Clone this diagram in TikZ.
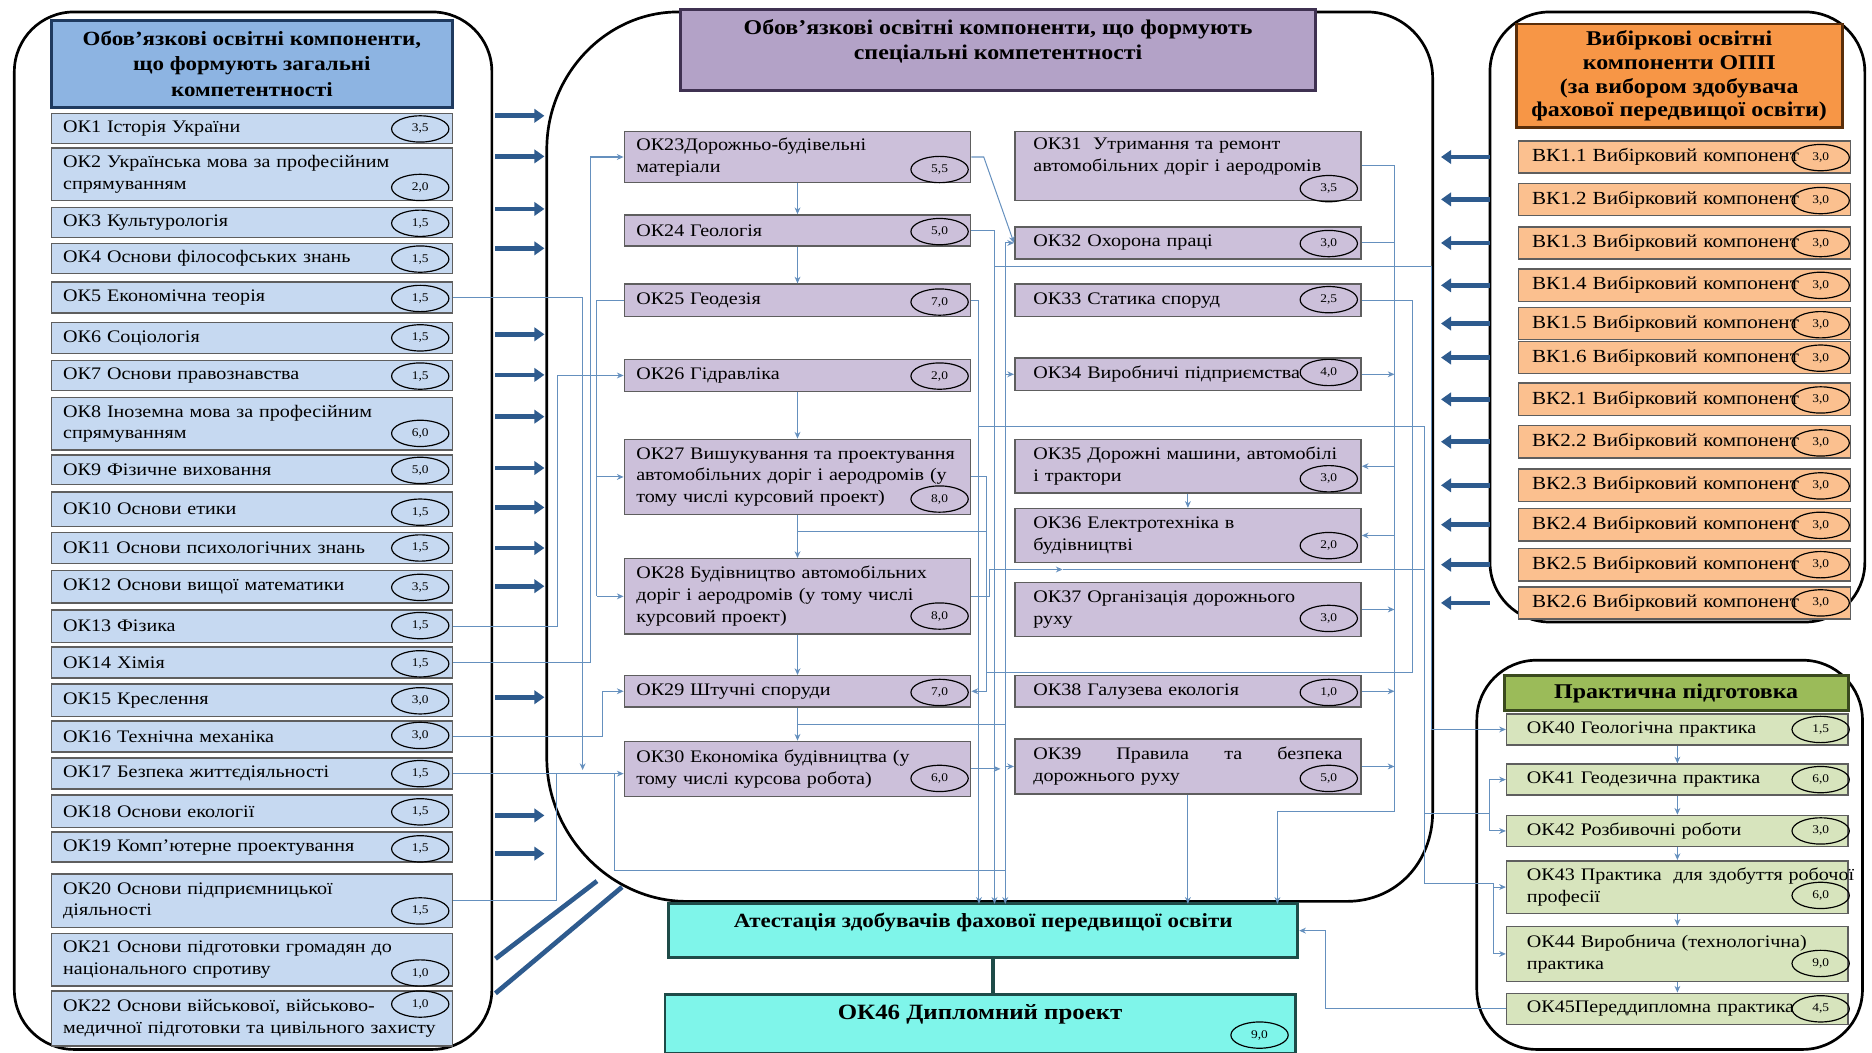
\documentclass[tikz,border=0pt]{standalone}
\usepackage{fontspec}
\setmainfont{Liberation Serif}[FakeStretch=1.14]
\usetikzlibrary{arrows.meta,shapes.geometric}

\definecolor{genhead}{HTML}{8DB4E2}
\definecolor{genfill}{HTML}{C6D9F1}
\definecolor{gendark}{HTML}{1F3A5F}
\definecolor{spechead}{HTML}{B3A2C7}
\definecolor{specfill}{HTML}{CCC0DA}
\definecolor{specdark}{HTML}{3F3151}
\definecolor{elehead}{HTML}{F79646}
\definecolor{elefill}{HTML}{FBC08F}
\definecolor{eledark}{HTML}{5A2E0A}
\definecolor{prachead}{HTML}{9BBB59}
\definecolor{pracfill}{HTML}{D7E4BD}
\definecolor{pracdark}{HTML}{3A4A1E}
\definecolor{attfill}{HTML}{7FF5EA}
\definecolor{attdark}{HTML}{1E4B48}
\definecolor{rowgrey}{HTML}{5E5E5E}
\definecolor{fatblue}{HTML}{2E5B8E}
\definecolor{wireblue}{HTML}{6590BE}

\tikzset{
  frame/.style={draw=black, line width=1.6pt},
  rowbase/.style={draw=rowgrey, line width=0.9pt, align=left, inner ysep=0pt, font=\fontsize{10.5}{13}\selectfont},
  genrow/.style={rowbase, fill=genfill, minimum width=8.4cm, inner xsep=7pt, text width=7.9cm},
  specrow/.style={rowbase, fill=specfill, minimum width=7.25cm, inner xsep=7pt, text width=6.75cm},
  specrowr/.style={specrow, inner xsep=11pt, text width=6.47cm},
  elerow/.style={rowbase, fill=elefill, minimum width=6.95cm, minimum height=0.675cm, inner xsep=8pt, text width=6.38cm, font=\fontsize{11}{13}\selectfont},
  pracrow/.style={rowbase, fill=pracfill, minimum width=7.15cm, inner xsep=12pt, text width=6.3cm},
  hdr/.style={line width=1.6pt, align=center, inner sep=0pt, font=\bfseries\fontsize{12.5}{15}\selectfont},
  attbox/.style={draw=attdark, line width=1.6pt, fill=attfill},
  credit/.style={ellipse, draw=black, line width=0.7pt, minimum width=1.2cm, minimum height=0.55cm, inner sep=0pt, font=\fontsize{7}{7}\selectfont},
  fat/.style={draw=fatblue, line width=2.8pt, -{Triangle[length=6pt,width=8pt]}},
  fatline/.style={draw=fatblue, line width=2.8pt},
  wire/.style={draw=wireblue, line width=0.6pt},
  wirearrow/.style={wire, -{Stealth[length=4pt,width=3.5pt]}},
}

\begin{document}
\begin{tikzpicture}[x=0.025cm, y=-0.025cm]
    \useasboundingbox (0,0) rectangle (1568,882);

    % outer frames
    \draw[frame, rounded corners=1.25cm] (12,10) rectangle (412,879);
    \draw[frame] (458,125) .. controls (458,62) and (508,10) .. (568,10) -- (1145,10)
        .. controls (1175,10) and (1200,35) .. (1200,65) -- (1200,680)
        .. controls (1200,722) and (1170,755) .. (1128,755) -- (575,755)
        .. controls (512,755) and (458,700) .. (458,635) -- cycle;
    \draw[frame, rounded corners=1.25cm] (1248,10) rectangle (1562,521);
    \draw[frame, rounded corners=1.25cm] (1237,553) rectangle (1560,879);

    % general competences
    \node[hdr, draw=gendark, fill=genhead, minimum width=8.4cm, minimum height=1.825cm, font=\bfseries\fontsize{12}{15}\selectfont] (gen) at (211,53.5) {Обов'язкові освітні компоненти,\\що формують загальні\\компетентності};
    \node[genrow, minimum height=0.625cm] (ok1) at (211,107.5) {ОК1 Історія України};
    \node[credit] (ok1v) at (352,108) {3,5};
    \node[genrow, minimum height=1.1cm] (ok2) at (211,146) {ОК2 Українська мова за професійним\\спрямуванням};
    \node[credit] (ok2v) at (352,157) {2,0};
    \node[genrow, minimum height=0.625cm] (ok3) at (211,186.5) {ОК3 Культурологія};
    \node[credit] (ok3v) at (352,187) {1,5};
    \node[genrow, minimum height=0.625cm] (ok4) at (211,216.5) {ОК4 Основи філософських знань};
    \node[credit] (ok4v) at (352,217) {1,5};
    \node[genrow, minimum height=0.65cm] (ok5) at (211,249) {ОК5 Економічна теорія};
    \node[credit] (ok5v) at (352,250) {1,5};
    \node[genrow, minimum height=0.65cm] (ok6) at (211,283) {ОК6 Соціологія};
    \node[credit] (ok6v) at (352,283) {1,5};
    \node[genrow, minimum height=0.625cm] (ok7) at (211,314.5) {ОК7 Основи правознавства};
    \node[credit] (ok7v) at (352,315) {1,5};
    \node[genrow, minimum height=1.1cm] (ok8) at (211,355) {ОК8 Іноземна мова за професійним\\спрямуванням};
    \node[credit] (ok8v) at (352,363) {6,0};
    \node[genrow, minimum height=0.625cm] (ok9) at (211,393.5) {ОК9 Фізичне виховання};
    \node[credit] (ok9v) at (352,394) {5,0};
    \node[genrow, minimum height=0.725cm] (ok10) at (211,426.5) {ОК10 Основи етики};
    \node[credit] (ok10v) at (352,429) {1,5};
    \node[genrow, minimum height=0.65cm] (ok11) at (211,459) {ОК11 Основи психологічних знань};
    \node[credit] (ok11v) at (352,459) {1,5};
    \node[genrow, minimum height=0.675cm] (ok12) at (211,491.5) {ОК12 Основи вищої математики};
    \node[credit] (ok12v) at (352,492) {3,5};
    \node[genrow, minimum height=0.675cm] (ok13) at (211,524.5) {ОК13 Фізика};
    \node[credit] (ok13v) at (352,524) {1,5};
    \node[genrow, minimum height=0.65cm] (ok14) at (211,555) {ОК14 Хімія};
    \node[credit] (ok14v) at (352,556) {1,5};
    \node[genrow, minimum height=0.675cm] (ok15) at (211,586.5) {ОК15 Креслення};
    \node[credit] (ok15v) at (352,587) {3,0};
    \node[genrow, minimum height=0.65cm] (ok16) at (211,617) {ОК16 Технічна механіка};
    \node[credit] (ok16v) at (352,616) {3,0};
    \node[genrow, minimum height=0.65cm] (ok17) at (211,648) {ОК17 Безпека життєдіяльності};
    \node[credit] (ok17v) at (352,648) {1,5};
    \node[genrow, minimum height=0.675cm] (ok18) at (211,679.5) {ОК18 Основи екології};
    \node[credit] (ok18v) at (352,680) {1,5};
    \node[genrow, minimum height=0.625cm] (ok19) at (211,709.5) {ОК19 Комп'ютерне проектування};
    \node[credit] (ok19v) at (352,711) {1,5};
    \node[genrow, minimum height=1.125cm] (ok20) at (211,754.5) {ОК20 Основи підприємницької\\діяльності};
    \node[credit] (ok20v) at (352,763) {1,5};
    \node[genrow, minimum height=1.1cm] (ok21) at (211,804) {ОК21 Основи підготовки громадян до\\національного спротиву};
    \node[credit] (ok21v) at (352,815) {1,0};
    \node[genrow, minimum height=1.15cm] (ok22) at (211,853) {ОК22 Основи військової, військово-\\\mbox{медичної підготовки та цивільного захисту}};
    \node[credit] (ok22v) at (352,841) {1,0};

    % special competences
    \node[hdr, draw=specdark, fill=spechead, minimum width=13.3cm, minimum height=1.7cm,
        label={[anchor=north, yshift=-3pt, align=center, font=\bfseries\fontsize{12.5}{15}\selectfont]north:{Обов’язкові освітні компоненти, що формують\\спеціальні компетентності}}] (spec) at (836,42) {};
    \node[specrow, minimum height=1.075cm] (ok23) at (668,131.5) {ОК23Дорожньо-будівельні\\матеріали};
    \node[credit] (ok23v) at (787,142) {5,5};
    \node[specrow, minimum height=0.65cm] (ok24) at (668,193) {ОК24 Геологія};
    \node[credit] (ok24v) at (787,194) {5,0};
    \node[specrow, minimum height=0.675cm] (ok25) at (668,251.5) {ОК25 Геодезія};
    \node[credit] (ok25v) at (787,253) {7,0};
    \node[specrow, minimum height=0.675cm] (ok26) at (668,314.5) {ОК26 Гідравліка};
    \node[credit] (ok26v) at (787,315) {2,0};
    \node[specrow, minimum height=1.575cm] (ok27) at (668,399.5) {ОК27 Вишукування та проектування\\\mbox{автомобільних доріг і аеродромів (у}\\тому числі курсовий проект)};
    \node[credit] (ok27v) at (787,418) {8,0};
    \node[specrow, minimum height=1.575cm] (ok28) at (668,499.5) {ОК28 Будівництво автомобільних\\доріг і аеродромів (у тому числі\\курсовий проект)};
    \node[credit] (ok28v) at (787,516) {8,0};
    \node[specrow, minimum height=0.65cm] (ok29) at (668,579) {ОК29 Штучні споруди};
    \node[credit] (ok29v) at (787,580) {7,0};
    \node[specrow, minimum height=1.15cm] (ok30) at (668,644) {ОК30 Економіка будівництва (у\\тому числі курсова робота)};
    \node[credit] (ok30v) at (787,652) {6,0};

    \node[specrowr, minimum height=1.45cm] (ok31) at (995,139) {ОК31~~Утримання та ремонт\\\mbox{автомобільних доріг і аеродромів}\\\mbox{}};
    \node[credit] (ok31v) at (1113,158) {3,5};
    \node[specrowr, minimum height=0.675cm] (ok32) at (995,203.5) {ОК32 Охорона праці};
    \node[credit] (ok32v) at (1113,204) {3,0};
    \node[specrowr, minimum height=0.675cm] (ok33) at (995,251.5) {ОК33 Статика споруд};
    \node[credit] (ok33v) at (1113,251) {2,5};
    \node[specrowr, minimum height=0.675cm] (ok34) at (995,313.5) {ОК34 Виробничі підприємства};
    \node[credit] (ok34v) at (1113,312) {4,0};
    \node[specrowr, minimum height=1.125cm] (ok35) at (995,390.5) {ОК35 Дорожні машини, автомобілі\\і трактори};
    \node[credit] (ok35v) at (1113,401) {3,0};
    \node[specrowr, minimum height=1.125cm] (ok36) at (995,448.5) {ОК36 Електротехніка в\\будівництві};
    \node[credit] (ok36v) at (1113,457) {2,0};
    \node[specrowr, minimum height=1.125cm] (ok37) at (995,510.5) {ОК37 Організація дорожнього\\руху};
    \node[credit] (ok37v) at (1113,518) {3,0};
    \node[specrowr, minimum height=0.65cm] (ok38) at (995,579) {ОК38 Галузева екологія};
    \node[credit] (ok38v) at (1113,580) {1,0};
    \node[specrowr, minimum height=1.15cm] (ok39) at (995,642) {ОК39\hfill Правила\hfill та\hfill безпека\\дорожнього руху};
    \node[credit] (ok39v) at (1113,652) {5,0};

    % attestation and diploma
    \node[attbox, minimum width=13.175cm, minimum height=1.125cm,
        label={[anchor=north, yshift=-3pt, font=\bfseries\fontsize{12}{14}\selectfont]north:{Атестація здобувачів фахової передвищої освіти}}] (att) at (823.5,779.5) {};
    \node[attbox, minimum width=13.2cm, minimum height=1.225cm,
        label={[anchor=north, yshift=-3.5pt, font=\bfseries\fontsize{13}{15}\selectfont]north:{ОК46 Дипломний проект}}] (ok46) at (821,857.5) {};
    \node[credit] (ok46v) at (1055,867) {9,0};
    \draw[draw=attdark, line width=2.5pt] (832,802) -- (832,833);

    % elective components
    \node[hdr, draw=eledark, fill=elehead, minimum width=6.825cm, minimum height=2.175cm, font=\bfseries\fontsize{12.5}{14.2}\selectfont] (ele) at (1406.5,63.5) {Вибіркові освітні\\компоненти ОПП\\(за вибором здобувача\\фахової передвищої освіти)};
    \node[elerow] (vk11) at (1411,131.5) {ВК1.1 Вибірковий компонент};
    \node[credit] (vk11v) at (1525,132) {3,0};
    \node[elerow] (vk12) at (1411,167) {ВК1.2 Вибірковий компонент};
    \node[credit] (vk12v) at (1525,168) {3,0};
    \node[elerow] (vk13) at (1411,203.5) {ВК1.3 Вибірковий компонент};
    \node[credit] (vk13v) at (1525,204) {3,0};
    \node[elerow] (vk14) at (1411,239) {ВК1.4 Вибірковий компонент};
    \node[credit] (vk14v) at (1525,239) {3,0};
    \node[elerow] (vk15) at (1411,271) {ВК1.5 Вибірковий компонент};
    \node[credit] (vk15v) at (1525,272) {3,0};
    \node[elerow] (vk16) at (1411,299.5) {ВК1.6 Вибірковий компонент};
    \node[credit] (vk16v) at (1525,300) {3,0};
    \node[elerow] (vk21) at (1411,334.5) {ВК2.1 Вибірковий компонент};
    \node[credit] (vk21v) at (1525,335) {3,0};
    \node[elerow] (vk22) at (1411,370) {ВК2.2 Вибірковий компонент};
    \node[credit] (vk22v) at (1525,371) {3,0};
    \node[elerow] (vk23) at (1411,406.5) {ВК2.3 Вибірковий компонент};
    \node[credit] (vk23v) at (1525,407) {3,0};
    \node[elerow] (vk24) at (1411,439.5) {ВК2.4 Вибірковий компонент};
    \node[credit] (vk24v) at (1525,440) {3,0};
    \node[elerow] (vk25) at (1411,473) {ВК2.5 Вибірковий компонент};
    \node[credit] (vk25v) at (1525,473) {3,0};
    \node[elerow] (vk26) at (1411,505) {ВК2.6 Вибірковий компонент};
    \node[credit] (vk26v) at (1525,505) {3,0};

    % practical training
    \node[hdr, draw=pracdark, fill=prachead, minimum width=7.2cm, minimum height=0.725cm] (prac) at (1404,580.5) {Практична підготовка};
    \node[pracrow, minimum height=0.65cm] (ok40) at (1405,611) {ОК40 Геологічна практика};
    \node[credit] (ok40v) at (1525,611) {1,5};
    \node[pracrow, minimum height=0.65cm] (ok41) at (1405,653) {ОК41 Геодезична практика};
    \node[credit] (ok41v) at (1525,653) {6,0};
    \node[pracrow, minimum height=0.65cm] (ok42) at (1405,696) {ОК42 Розбивочні роботи};
    \node[credit] (ok42v) at (1525,696) {3,0};
    \node[pracrow, minimum height=1.1cm] (ok43) at (1405,743) {\mbox{ОК43 Практика~ для здобуття робочої}\\професії};
    \node[credit] (ok43v) at (1525,750) {6,0};
    \node[pracrow, minimum height=1.15cm] (ok44) at (1405,799) {ОК44 Виробнича (технологічна)\\практика};
    \node[credit] (ok44v) at (1525,807) {9,0};
    \node[pracrow, minimum height=0.65cm] (ok45) at (1405,845) {ОК45Переддипломна практика};
    \node[credit] (ok45v) at (1525,845) {4,5};

    % heavy arrows between the blocks
    \draw[fat] (415,97) -- (456,97);
    \draw[fat] (415,131) -- (456,131);
    \draw[fat] (415,175) -- (456,175);
    \draw[fat] (415,208) -- (456,208);
    \draw[fat] (415,280) -- (456,280);
    \draw[fat] (415,314) -- (456,314);
    \draw[fat] (415,349) -- (456,349);
    \draw[fat] (415,392) -- (456,392);
    \draw[fat] (415,425) -- (456,425);
    \draw[fat] (415,459) -- (456,459);
    \draw[fat] (415,491) -- (456,491);
    \draw[fat] (415,584) -- (456,584);
    \draw[fat] (415,683) -- (456,683);
    \draw[fat] (415,715) -- (456,715);
    \draw[fatline] (415,803) -- (500,738);
    \draw[fatline] (415,832) -- (521,743);
    \draw[fat] (1248,131.5) -- (1207,131.5);
    \draw[fat] (1248,167) -- (1207,167);
    \draw[fat] (1248,203.5) -- (1207,203.5);
    \draw[fat] (1248,239) -- (1207,239);
    \draw[fat] (1248,271) -- (1207,271);
    \draw[fat] (1248,299.5) -- (1207,299.5);
    \draw[fat] (1248,334.5) -- (1207,334.5);
    \draw[fat] (1248,370) -- (1207,370);
    \draw[fat] (1248,406.5) -- (1207,406.5);
    \draw[fat] (1248,439.5) -- (1207,439.5);
    \draw[fat] (1248,473) -- (1207,473);
    \draw[fat] (1248,505) -- (1207,505);

    % left column into the centre
    \draw[wirearrow] (ok5.east) -| (488,645);
    \draw[wirearrow] (ok13.east) -| (467,314.5) -- (ok26.west);
    \draw[wirearrow] (ok14.east) -| (495,131.5) -- (ok23.west);
    \draw[wirearrow] (ok16.east) -| (505,579) -- (ok29.west);
    \draw[wirearrow] (ok17.east) -- (ok17.east -| ok30.west);
    \draw[wire] (ok20.east) -| (466,648);
    \draw[wire] (515,648) |- (842,729);
    \draw[wire] (ok25.west) -| (500,499.5);
    \draw[wirearrow] (500,399.5) -- (ok27.west);
    \draw[wirearrow] (500,499.5) -- (ok28.west);

    % inside the centre
    \draw[wirearrow] (ok23) -- (ok24);
    \draw[wirearrow] (ok24) -- (ok25);
    \draw[wirearrow] (ok26) -- (ok27);
    \draw[wirearrow] (ok27) -- (ok28);
    \draw[wirearrow] (ok28) -- (ok29);
    \draw[wirearrow] (ok29) -- (ok30);
    \draw[wire] (668,445) -- (826,445);
    \draw[wire] (668,607) -- (842,607);
    \draw[wirearrow] (ok23.east) -- (824,131.5) -- (ok32.west);
    \draw[wirearrow] (ok24.east) -| (833,757);
    \draw[wirearrow] (ok25.east) -| (820,757);
    \draw[wirearrow] (ok27.east) -- (826,399.5) |- (ok29.east);
    \draw[wire] (ok33.east) -| (1183,563) -- (826,563);
    \draw[wirearrow] (ok28.east) -- (829,499.5) |- (890,477);
    \draw[wire] (890,477) -- (1193,477);
    \draw[wire] (833,223) -- (1199,223);
    \draw[wire] (820,357) -- (1193,357);
    \draw[wirearrow] (842,203.5) -- (842,757);
    \draw[wirearrow] (842,203.5) -- (ok32.west);
    \draw[wirearrow] (842,313.5) -- (ok34.west);
    \draw[wirearrow] (842,642) -- (ok39.west);
    \draw[wirearrow] (ok30.east) -- (838,644);
    \draw[wirearrow] (ok31.east) -| (1168,680) -| (1070,757);
    \draw[wire] (ok32.east) -- (1168,203.5);
    \draw[wirearrow] (ok34.east) -- (1168,313.5);
    \draw[wirearrow] (1168,390.5) -- (ok35.east);
    \draw[wirearrow] (1168,448.5) -- (ok36.east);
    \draw[wirearrow] (ok37.east) -- (1168,510.5);
    \draw[wirearrow] (ok38.east) -- (1168,579);
    \draw[wirearrow] (ok39.east) -- (1168,642);
    \draw[wirearrow] (ok35) -- (ok36);
    \draw[wirearrow] (ok39.south) -- (995,757);

    % into the practical training
    \draw[wirearrow] (1199,223) |- (ok40.west);
    \draw[wire] (1193,357) |- (1251,740);
    \draw[wire] (1193,681) -- (1248,681);
    \draw[wirearrow] (1248,681) |- (ok41.west);
    \draw[wirearrow] (1248,681) |- (ok42.west);
    \draw[wirearrow] (1251,740) |- (ok43.west);
    \draw[wirearrow] (1251,740) |- (ok44.west);
    \draw[wirearrow] (ok40) -- (ok41);
    \draw[wirearrow] (ok41) -- (ok42);
    \draw[wirearrow] (ok42) -- (ok43);
    \draw[wirearrow] (ok43) -- (ok44);
    \draw[wirearrow] (ok44) -- (ok45);
    \draw[wirearrow] (ok45.west) -| (1110,779.5) -- (att.east);
\end{tikzpicture}
\end{document}
